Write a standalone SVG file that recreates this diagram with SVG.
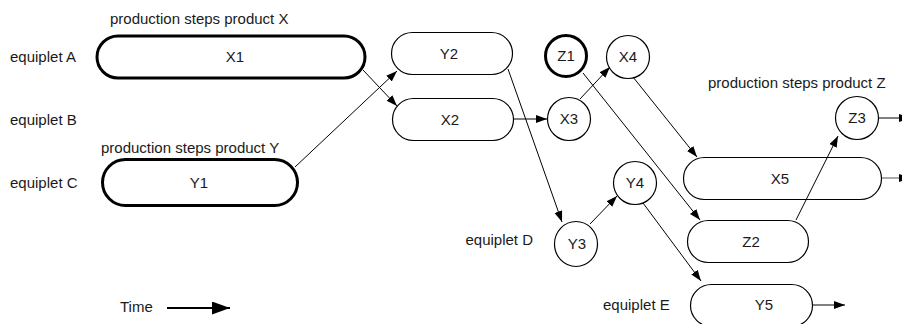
<svg xmlns="http://www.w3.org/2000/svg" width="902" height="324" viewBox="0 0 902 324">
<style>
text{font-family:"Liberation Sans",Arial,sans-serif;font-size:15px;fill:#1a1a1a}
.c{text-anchor:middle}
.n{fill:#fff;stroke:#000;stroke-width:1.2}
.t{fill:#fff;stroke:#000;stroke-width:3}
.e{stroke:#000;stroke-width:1;fill:none;marker-end:url(#ah)}
</style>
<defs>
<marker id="ah" markerUnits="userSpaceOnUse" markerWidth="12" markerHeight="10" refX="11" refY="4" orient="auto">
<path d="M0,0 L11,4 L0,8 Z" fill="#000"/>
</marker>
<marker id="ahb" markerUnits="userSpaceOnUse" markerWidth="20" markerHeight="14" refX="18" refY="6.5" orient="auto">
<path d="M0,0 L18,6.5 L0,13 Z" fill="#000"/>
</marker>
</defs>
<g id="labels">
<text x="110" y="24">production steps product X</text>
<text x="101" y="153">production steps product Y</text>
<text x="708" y="88">production steps product Z</text>
<text x="10" y="62">equiplet A</text>
<text x="10" y="125">equiplet B</text>
<text x="10" y="188">equiplet C</text>
<text x="533" y="245" text-anchor="end">equiplet D</text>
<text x="603" y="310">equiplet E</text>
<text x="120" y="312">Time</text>
</g>
<g id="X1"><rect class="t" x="97" y="36" width="268" height="42" rx="21"/><text class="c" x="235" y="62">X1</text></g>
<g id="Y1"><rect class="t" x="102.5" y="159.5" width="195" height="46" rx="23"/><text class="c" x="199" y="188">Y1</text></g>
<g id="Y2"><rect class="n" x="391.5" y="32.5" width="121" height="42" rx="21"/><text class="c" x="449" y="59">Y2</text></g>
<g id="X2"><rect class="n" x="392.5" y="98.5" width="121" height="42" rx="21"/><text class="c" x="450" y="125">X2</text></g>
<g id="Z1"><circle class="t" cx="566" cy="56" r="20.5"/><text class="c" x="566" y="61">Z1</text></g>
<g id="X4"><circle class="n" cx="628" cy="57" r="21.5"/><text class="c" x="628" y="62">X4</text></g>
<g id="X3"><circle class="n" cx="569" cy="119" r="21.5"/><text class="c" x="569" y="124">X3</text></g>
<g id="Z3"><circle class="n" cx="857" cy="118" r="21.5"/><text class="c" x="857" y="123">Z3</text></g>
<g id="X5"><rect class="n" x="683.5" y="157.5" width="198" height="42" rx="21"/><text class="c" x="780" y="184">X5</text></g>
<g id="Y4"><circle class="n" cx="635" cy="183" r="21.5"/><text class="c" x="635" y="188">Y4</text></g>
<g id="Y3"><ellipse class="n" cx="576" cy="244" rx="21.5" ry="22.5"/><text class="c" x="577" y="249">Y3</text></g>
<g id="Z2"><rect class="n" x="687.5" y="220.5" width="121" height="42" rx="21"/><text class="c" x="751" y="247">Z2</text></g>
<g id="Y5"><rect class="n" x="690.5" y="284.5" width="122" height="42" rx="21"/><text class="c" x="764" y="310">Y5</text></g>
<g id="connectors">
<line class="e" x1="363" y1="70" x2="397" y2="106"/>
<line class="e" x1="295" y1="167" x2="397" y2="71"/>
<line class="e" x1="508" y1="69" x2="562" y2="222"/>
<line class="e" x1="513" y1="119" x2="547" y2="119"/>
<line class="e" x1="580" y1="99" x2="610" y2="67"/>
<line class="e" x1="583" y1="73" x2="700" y2="220"/>
<line class="e" x1="633" y1="77" x2="697" y2="157"/>
<line class="e" x1="590" y1="224" x2="617" y2="196"/>
<line class="e" x1="643" y1="203" x2="701" y2="281"/>
<line class="e" x1="796" y1="220" x2="838" y2="136"/>
<line class="e" x1="878" y1="118" x2="910" y2="118"/>
<line class="e" x1="882" y1="178" x2="910" y2="178" style="stroke:#555"/>
<line class="e" x1="813" y1="305" x2="845" y2="305"/>
<line x1="167" y1="308" x2="230" y2="308" stroke="#000" stroke-width="2" marker-end="url(#ahb)"/>
</g>
</svg>
